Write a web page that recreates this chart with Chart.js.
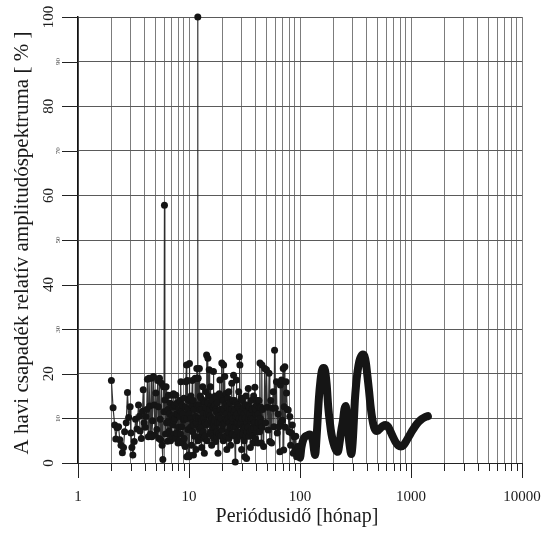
<!DOCTYPE html>
<html>
<head>
<meta charset="utf-8">
<script src="https://cdn.jsdelivr.net/npm/chart.js@4.4.1/dist/chart.umd.min.js"></script>
<style>
html, body { margin: 0; padding: 0; background: #fff; }
canvas { display: block; }
</style>
</head>
<body>
<canvas id="spectrum" width="545" height="536"></canvas>
<script>
// periods (months) and relative amplitude (%) of the short-period part
var noisePeriods = [
  2.00, 2.07, 2.14, 2.19, 2.25, 2.32, 2.38, 2.44, 2.51, 2.57, 2.63, 2.72, 2.79, 2.86, 2.95,
  3.00, 3.06, 3.12, 3.21, 3.30, 3.40, 3.51, 3.58, 3.63, 3.72, 3.81, 3.87, 3.94, 4.03, 4.09,
  4.16, 4.22, 4.30, 4.36, 4.43, 4.50, 4.57, 4.63, 4.70, 4.79, 4.87, 4.95, 5.03, 5.13, 5.22,
  5.30, 5.36, 5.42, 5.50, 5.57, 5.65, 5.73, 5.81, 5.89, 5.95, 6.01, 6.06,
  6.15, 6.22, 6.27, 6.33, 6.40, 6.46, 6.52, 6.57, 6.62, 6.69,
  6.76, 6.82, 6.88, 6.94, 7.00, 7.07, 7.14, 7.20, 7.25, 7.32,
  7.38, 7.44, 7.49, 7.56, 7.62, 7.69, 7.76, 7.83, 7.90, 7.97,
  8.05, 8.11, 8.17, 8.24, 8.31, 8.38, 8.45, 8.52, 8.60, 8.67,
  8.75, 8.83, 8.91, 8.98, 9.05, 9.13, 9.21, 9.30, 9.38, 9.50,
  9.55, 9.60, 9.66, 9.73, 9.80, 9.86, 9.92, 10.0, 10.05, 10.1,
  10.2, 10.3, 10.4, 10.47, 10.55, 10.62, 10.7, 10.78, 10.85, 10.9,
  10.97, 11.05, 11.15, 11.25, 11.36, 11.45, 11.55, 11.65, 11.75, 11.85,
  11.95, 12.00, 12.05,
  12.1, 12.17, 12.25, 12.32, 12.4, 12.47, 12.55, 12.62, 12.7, 12.77,
  12.85, 12.92, 13.0, 13.07, 13.15, 13.22, 13.3, 13.37, 13.45, 13.52,
  13.6, 13.67, 13.75, 13.82, 13.9, 13.97, 14.05, 14.12, 14.2, 14.3,
  14.4, 14.5, 14.6, 14.7, 14.8, 14.9, 15.0, 15.1, 15.2, 15.3,
  15.4, 15.5, 15.6, 15.7, 15.8, 15.9, 16.0, 16.1, 16.2, 16.3,
  16.4, 16.5, 16.6, 16.7, 16.8, 16.9, 17.0, 17.1, 17.2, 17.3,
  17.4, 17.5, 17.6, 17.7, 17.8, 17.9, 18.0, 18.12, 18.25, 18.37,
  18.5, 18.62, 18.75, 18.87, 19.0, 19.12, 19.25, 19.37, 19.5, 19.62,
  19.75, 19.87, 20.0, 20.12, 20.25, 20.37, 20.5, 20.62, 20.75, 20.87,
  21.0, 21.15, 21.3, 21.45, 21.6, 21.75, 21.9, 22.05, 22.2, 22.35,
  22.5, 22.65, 22.8, 22.95, 23.1, 23.25, 23.4, 23.55, 23.7, 23.85,
  24.0, 24.15, 24.3, 24.45, 24.6, 24.75, 24.9, 25.05, 25.2, 25.35,
  25.5, 25.65, 25.8, 25.95, 26.1, 26.25, 26.4, 26.55, 26.7, 26.85,
  27.0, 27.17, 27.35, 27.52, 27.7, 27.87, 28.05, 28.22, 28.4, 28.57,
  28.75, 28.92, 29.1, 29.27, 29.45, 29.62, 29.8, 30.0, 30.2, 30.4,
  30.6, 30.8, 31.0, 31.2, 31.4, 31.6, 31.8, 32.0, 32.2, 32.4,
  32.6, 32.8, 33.0, 33.2, 33.4, 33.6, 33.8, 34.0, 34.2, 34.45,
  34.7, 34.95, 35.2, 35.45, 35.7, 35.95, 36.2, 36.45, 36.7, 36.95,
  37.2, 37.45, 37.7, 37.95, 38.2, 38.45, 38.7, 38.95, 39.2, 39.45,
  39.7, 39.95, 40.2, 40.45, 40.7, 40.95, 41.2, 41.5, 41.8, 42.1,
  42.4, 42.7, 43.0, 43.3, 43.6, 43.9, 44.2, 44.5, 44.8, 45.1,
  45.4, 45.7, 46.0,
  47.0, 48.1, 49.0, 49.9, 50.8, 51.7, 52.6, 53.5, 54.5, 55.5, 56.4, 57.3, 58.2, 59.0, 60.0,
  61.3, 62.4, 63.5, 64.6, 65.8, 66.5, 67.3, 68.2, 69.4, 70.6, 71.3, 72.0, 73.0, 73.8, 74.8,
  75.6, 76.9, 78.3, 79.6, 80.9, 82.3, 83.8, 85.3, 86.9, 88.5, 90.0, 91.6, 93.2, 95.0, 97.0
];
var noiseAmplitudes = [
  18.5, 12.4, 8.5, 5.4, 7.9, 8.1, 5.2, 4.0, 2.3, 3.5, 7.0, 9.0, 15.8, 10.2, 12.6,
  6.7, 3.5, 1.8, 4.8, 9.8, 7.6, 13.0, 10.5, 7.2, 5.5, 11.6, 16.4, 9.0, 8.0, 10.4,
  12.0, 18.8, 5.9, 19.0, 12.8, 6.5, 19.0, 5.9, 9.5, 19.4, 13.0, 6.3, 15.7, 7.5, 18.5,
  12.6, 5.5, 19.0, 9.8, 5.2, 17.9, 4.0, 0.8, 17.1, 11.5, 57.8, 14.1,
  6.5, 17.1, 9.0, 11.5, 4.9, 12.0, 15.2, 9.5, 7.2, 11.0,
  13.4, 5.0, 9.0, 6.0, 15.2, 10.5, 8.5, 12.5, 15.5, 9.5,
  6.5, 13.0, 10.0, 5.5, 15.2, 11.0, 6.7, 13.5, 11.0, 4.5,
  8.0, 12.0, 5.0, 14.0, 10.4, 6.5, 18.2, 11.5, 8.1, 13.0,
  4.5, 11.0, 9.6, 14.5, 5.5, 10.0, 3.7, 12.5, 18.2, 22.0,
  1.4, 10.0, 18.5, 12.0, 7.5, 14.0, 1.8, 1.4, 11.0, 22.3,
  14.5, 8.0, 15.0, 10.0, 4.0, 13.0, 18.5, 7.0, 9.0, 14.0,
  1.8, 8.5, 12.0, 6.0, 19.0, 10.5, 3.0, 9.0, 21.2, 13.0,
  19.0, 100, 5.0,
  19.0, 10.0, 8.0, 13.0, 21.2, 7.5, 11.9, 15.0, 6.0, 10.0,
  14.5, 8.0, 3.5, 9.5, 12.0, 6.5, 17.1, 11.0, 7.0, 14.0,
  10.0, 5.5, 2.2, 9.0, 13.5, 6.0, 9.0, 12.5, 16.0, 8.5,
  24.2, 11.0, 5.0, 13.5, 23.5, 9.0, 11.0, 15.0, 20.9, 12.0,
  6.5, 10.5, 17.1, 7.0, 9.5, 13.0, 4.0, 10.0, 14.0, 6.0,
  8.0, 12.5, 20.5, 9.0, 12.5, 5.5, 9.6, 13.0, 15.0, 8.0,
  4.8, 12.0, 11.5, 6.0, 7.0, 14.5, 13.5, 9.0, 2.2, 11.0,
  10.5, 6.5, 15.5, 9.0, 18.6, 12.0, 6.0, 10.0, 12.0, 15.0,
  22.4, 7.5, 8.5, 11.5, 14.0, 5.0, 22.0, 12.0, 5.5, 9.0,
  19.4, 13.0, 10.0, 6.0, 15.6, 11.0, 3.0, 9.5, 12.5, 14.5,
  7.0, 10.0, 16.0, 5.5, 9.0, 12.0, 13.5, 8.0, 4.0, 10.5,
  11.0, 6.5, 17.9, 12.0, 6.5, 9.5, 14.0, 10.0, 19.7, 11.5,
  8.0, 14.0, 12.0, 6.0, 0.2, 8.0, 10.5, 13.5, 18.6, 9.0,
  5.0, 11.0, 13.0, 7.0, 9.0, 12.5, 16.0, 10.0, 23.8, 8.5,
  22.0, 12.0, 6.0, 9.0, 11.5, 14.5, 3.0, 10.0, 14.0, 6.5,
  8.0, 12.0, 12.5, 7.5, 5.0, 11.0, 1.4, 8.0, 10.0, 13.0,
  15.0, 6.0, 1.0, 7.0, 9.0, 11.5, 13.0, 8.0, 16.7, 10.0,
  6.0, 12.5, 11.0, 7.0, 3.5, 9.5, 14.0, 10.0, 7.5, 12.0,
  12.0, 6.0, 4.5, 10.0, 15.0, 8.0, 9.0, 12.5, 17.0, 9.0,
  5.5, 11.0, 12.0, 7.0, 8.0, 13.0, 14.0, 9.0, 4.5, 11.0,
  9.0, 14.0, 12.5, 7.0, 22.4, 10.0, 8.5, 12.5, 4.5, 9.0,
  22.0, 8.0, 12.0,
  3.7, 21.2, 9.0, 20.9, 12.5, 7.4, 20.1, 4.8, 14.0, 4.5, 12.3, 16.0, 8.1, 25.3, 12.3,
  18.2, 6.7, 11.0, 8.1, 2.5, 17.5, 9.0, 18.6, 9.6, 21.2, 2.9, 12.6, 21.6, 8.0, 18.2,
  15.7, 12.0, 11.9, 7.0, 10.4, 4.0, 6.7, 8.5, 2.2, 5.9, 2.9, 6.0, 1.4, 3.7, 2.5
];
// long-period part (dense, drawn as a thick curve)
var smoothPeriods = [
  97, 100, 103, 107, 112, 117, 122, 127, 131, 134, 137, 140, 144, 148, 153, 158, 163, 168,
  174, 180, 186, 192, 200, 210, 219, 227, 236, 244, 251, 258, 265, 272, 280, 290, 298, 305,
  312, 320, 330, 342, 355, 368, 380, 392, 405, 418, 432, 447, 465, 485, 505, 530, 560, 590,
  620, 650, 690, 730, 770, 810, 850, 900, 960, 1030, 1100, 1180, 1260, 1340, 1420
];
var smoothAmplitudes = [
  2.5, 1.2, 3.5, 5.2, 6.0, 6.2, 6.4, 6.0, 4.8, 2.8, 1.8, 4.5, 9.5, 14.5, 18.5, 20.8, 21.3, 20.8,
  17.5, 12.3, 9.0, 6.5, 4.5, 3.0, 2.5, 4.5, 7.5, 9.5, 12.0, 12.8, 10.5, 7.0, 4.0, 2.0, 4.5, 9.0,
  14.0, 17.5, 20.5, 22.8, 23.9, 24.3, 24.0, 22.5, 19.5, 16.4, 12.8, 10.0, 8.0, 7.2, 7.3, 7.8, 8.3, 8.5,
  8.2, 7.2, 5.8, 4.6, 3.9, 3.7, 3.9, 4.8, 6.0, 7.3, 8.4, 9.3, 9.9, 10.3, 10.5
];
var xTickLabels = ['1', '10', '100', '1000', '10000'];
var yMajorTicks = [0, 20, 40, 60, 80, 100];
var yMinorTicks = [10, 30, 50, 70, 90];
var xTitle = 'Periódusidő [hónap]';
var yTitle = 'A havi csapadék relatív amplitudóspektruma [ % ]';

var xGridValues = [];
[1, 10, 100, 1000].forEach(function(d) {
  for (var m = 1; m <= 9; m++) xGridValues.push(m * d);
});
xGridValues.push(10000);

var serif = '"Liberation Serif", "DejaVu Serif", serif';

var axisDecor = {
  id: 'axisDecor',
  afterDraw: function(chart) {
    var ctx = chart.ctx;
    var xs = chart.scales.x, ys = chart.scales.y, area = chart.chartArea;
    ctx.save();
    ctx.strokeStyle = '#222';
    ctx.lineWidth = 1;
    // x tick marks, longer at the decades
    xGridValues.forEach(function(v) {
      var px = Math.round(xs.getPixelForValue(v)) + 0.5;
      var major = xTickLabels.indexOf(String(v)) >= 0;
      ctx.beginPath();
      ctx.moveTo(px, area.bottom);
      ctx.lineTo(px, area.bottom + (major ? 15 : 8));
      ctx.stroke();
    });
    // y tick marks
    yMajorTicks.concat(yMinorTicks).forEach(function(v) {
      var py = Math.round(ys.getPixelForValue(v)) + 0.5;
      ctx.beginPath();
      ctx.moveTo(area.left - 16, py);
      ctx.lineTo(area.left, py);
      ctx.stroke();
    });
    ctx.fillStyle = '#1a1a1a';
    ctx.font = '15px ' + serif;
    ctx.textAlign = 'center';
    ctx.textBaseline = 'alphabetic';
    xTickLabels.forEach(function(t) {
      ctx.fillText(t, xs.getPixelForValue(Number(t)), 501);
    });
    // y labels are rotated like the original
    yMajorTicks.forEach(function(v) {
      ctx.save();
      ctx.translate(53, ys.getPixelForValue(v));
      ctx.rotate(-Math.PI / 2);
      ctx.font = '15px ' + serif;
      ctx.fillText(String(v), 0, 0);
      ctx.restore();
    });
    ctx.fillStyle = '#444';
    yMinorTicks.forEach(function(v) {
      ctx.save();
      ctx.translate(60, ys.getPixelForValue(v));
      ctx.rotate(-Math.PI / 2);
      ctx.font = '7px ' + serif;
      ctx.fillText(String(v), 0, 0);
      ctx.restore();
    });
    ctx.fillStyle = '#1a1a1a';
    ctx.font = '20px ' + serif;
    ctx.fillText(xTitle, (area.left + area.right) / 2 - 3, 522);
    ctx.save();
    ctx.translate(28, (area.top + area.bottom) / 2 + 3);
    ctx.rotate(-Math.PI / 2);
    ctx.font = '21px ' + serif;
    ctx.fillText(yTitle, 0, 0);
    ctx.restore();
    ctx.restore();
  }
};

var ctx = document.getElementById('spectrum').getContext('2d');
var spectrumChart = new Chart(ctx, {
  type: 'line',
  data: {
    datasets: [{
      label: 'rövid periódusok',
      data: noisePeriods.map(function(p, i) { return { x: p, y: noiseAmplitudes[i] }; }),
      borderColor: 'rgba(40,40,40,0.95)',
      borderWidth: 1.2,
      pointRadius: 3.5,
      pointBackgroundColor: '#151515',
      pointBorderWidth: 0,
      tension: 0,
      clip: false
    }, {
      label: 'hosszú periódusok',
      data: smoothPeriods.map(function(p, i) { return { x: p, y: smoothAmplitudes[i] }; }),
      borderColor: '#151515',
      borderWidth: 8,
      borderCapStyle: 'round',
      borderJoinStyle: 'round',
      cubicInterpolationMode: 'monotone',
      pointRadius: 0
    }]
  },
  options: {
    responsive: false,
    animation: false,
    layout: { padding: { left: 78, right: 23, top: 17, bottom: 73 } },
    plugins: {
      legend: { display: false },
      tooltip: { enabled: false }
    },
    scales: {
      x: {
        type: 'logarithmic',
        min: 1,
        max: 10000,
        afterBuildTicks: function(scale) {
          scale.ticks = xGridValues.map(function(v) { return { value: v }; });
        },
        afterFit: function(scale) { scale.height = 0; },
        ticks: { display: false },
        grid: { color: '#7c7c7c', lineWidth: 1, drawTicks: false },
        border: { display: true, color: '#222', width: 1 }
      },
      y: {
        min: 0,
        max: 100,
        ticks: { display: false, stepSize: 10 },
        afterFit: function(scale) { scale.width = 0; },
        grid: { color: '#5a5a5a', lineWidth: 1, drawTicks: false },
        border: { display: true, color: '#111', width: 1.5 }
      }
    }
  },
  plugins: [axisDecor]
});
</script>
</body>
</html>
